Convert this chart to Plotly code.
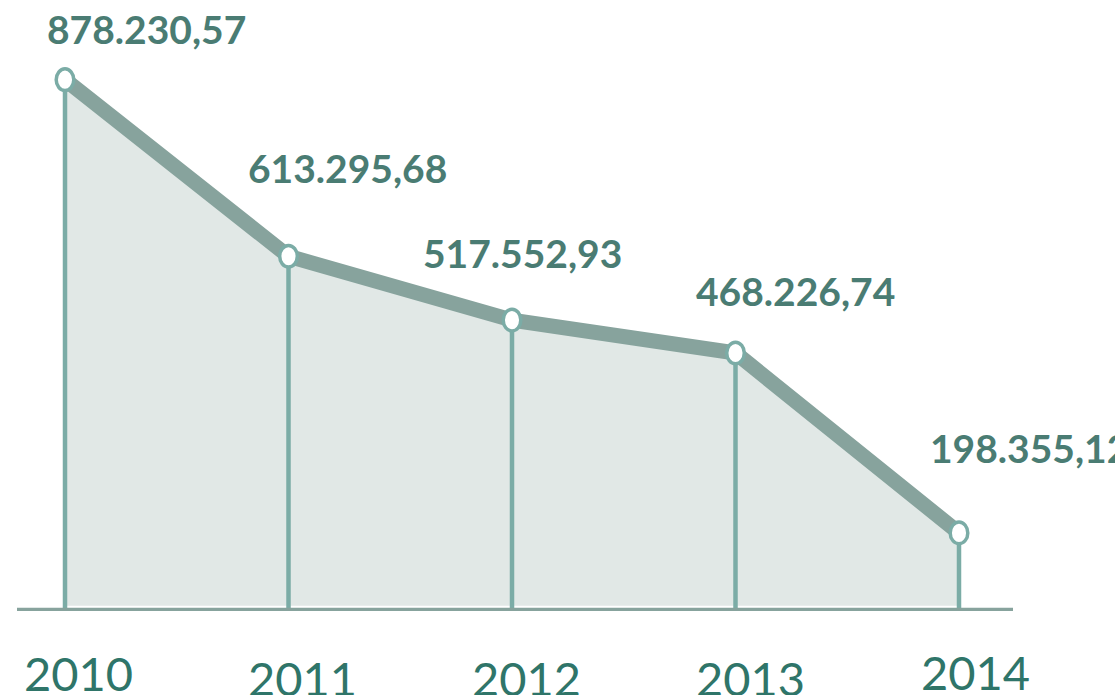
import plotly.graph_objects as go

# Data
years = [2010, 2011, 2012, 2013, 2014]
year_labels = ["2010", "2011", "2012", "2013", "2014"]
values = [878230.57, 613295.68, 517552.93, 468226.74, 198355.12]

# Styling
W, H = 1115, 695
PLOT_BOTTOM = 611          # pixel row of the plot-area bottom
PX_PER_UNIT = 0.0006666    # vertical scale (pixels per value unit)
ZERO_PX = 665.1            # pixel row where value 0 would sit
X_LEFT_PX, X_STEP_PX = 65.0, 223.5

LINE_COLOR = "#87A39D"
DROP_COLOR = "#7BACA6"
FILL_COLOR = "#E1E8E6"
VALUE_COLOR = "#4A7C73"
YEAR_COLOR = "#2F7569"


def px_to_val(p):
    return (ZERO_PX - p) / PX_PER_UNIT


x_lo = years[0] - X_LEFT_PX / X_STEP_PX
x_hi = x_lo + W / X_STEP_PX
y_lo = px_to_val(PLOT_BOTTOM)
y_hi = px_to_val(0)
fill_floor = px_to_val(605.7)
base_line = px_to_val(609.7)


def fmt_eu(v):
    s = f"{v:,.2f}"
    return s.replace(",", "X").replace(".", ",").replace("X", ".")


fig = go.Figure()

# shaded area under the line, stopping just above the baseline
fig.add_trace(go.Scatter(x=years, y=[fill_floor] * len(years), mode="lines",
                         line=dict(width=0), hoverinfo="skip", showlegend=False))
fig.add_trace(go.Scatter(x=years, y=values, mode="lines", fill="tonexty",
                         fillcolor=FILL_COLOR, line=dict(width=0),
                         hoverinfo="skip", showlegend=False))

# vertical drop lines from each point to the axis
dx, dy = [], []
for yr, v in zip(years, values):
    dx += [yr, yr, None]
    dy += [v, y_lo, None]
fig.add_trace(go.Scatter(x=dx, y=dy, mode="lines",
                         line=dict(color=DROP_COLOR, width=4.5),
                         hoverinfo="skip", showlegend=False))

# main thick line
fig.add_trace(go.Scatter(x=years, y=values, mode="lines",
                         line=dict(color=LINE_COLOR, width=15),
                         hoverinfo="skip", showlegend=False))

shapes = [dict(type="line", xref="paper", yref="y",
               x0=17 / W, x1=1013 / W, y0=base_line, y1=base_line,
               line=dict(color=LINE_COLOR, width=4), layer="above")]

# elliptical point markers
for yr, v in zip(years, values):
    shapes.append(dict(type="circle", xref="x", yref="y",
                       xsizemode="pixel", ysizemode="pixel",
                       xanchor=yr, yanchor=v,
                       x0=-8.8, x1=8.8, y0=-10.8, y1=10.8,
                       fillcolor="white", line=dict(color=DROP_COLOR, width=3.5),
                       layer="above"))

# value labels (offsets in pixels from each point)
label_offsets = [(81, 51, "center"), (58.5, 88, "center"), (10.5, 67, "center"),
                 (60, 62, "center"), (-31, 85, "left")]
annotations = []
for yr, v, (xs, ys, anc) in zip(years, values, label_offsets):
    annotations.append(dict(x=yr, y=v, xref="x", yref="y", text=fmt_eu(v),
                            showarrow=False, xanchor=anc, yanchor="middle",
                            xshift=xs, yshift=ys,
                            font=dict(family="Lato", size=39, color=VALUE_COLOR,
                                      weight="bold")))

# year labels below the baseline
year_offsets = [(13.5, -61.5), (13.5, -66.5), (14.5, -66.5), (14.5, -66.5), (16.5, -61)]
for yr, lab, (xs, ys) in zip(years, year_labels, year_offsets):
    annotations.append(dict(x=yr, y=0, xref="x", yref="paper", text=lab,
                            showarrow=False, xanchor="center", yanchor="middle",
                            xshift=xs, yshift=ys,
                            font=dict(family="Lato", size=47, color=YEAR_COLOR)))

fig.update_layout(
    width=W, height=H,
    margin=dict(l=0, r=0, t=0, b=H - PLOT_BOTTOM, pad=0),
    paper_bgcolor="white", plot_bgcolor="white",
    xaxis=dict(range=[x_lo, x_hi], visible=False, fixedrange=True),
    yaxis=dict(range=[y_lo, y_hi], visible=False, fixedrange=True),
    shapes=shapes, annotations=annotations, showlegend=False,
)

fig.write_html("out.html", config={"displayModeBar": False})
